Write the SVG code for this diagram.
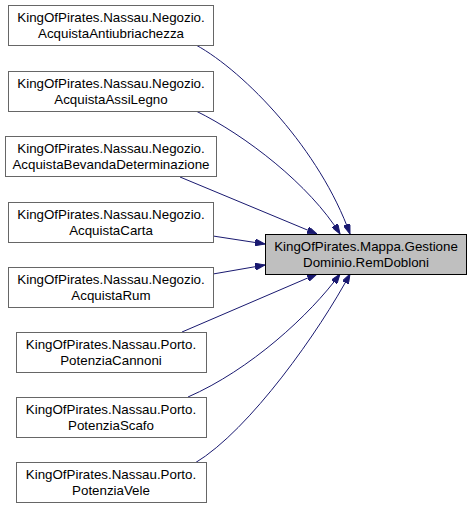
<svg xmlns="http://www.w3.org/2000/svg" width="472" height="509" viewBox="0 0 472 509">
<style>
.n rect{fill:#ffffff;stroke:#666666;stroke-width:1}
.t rect{fill:#bfbfbf;stroke:#000000;stroke-width:1}
text{font-family:"Liberation Sans",Arial,sans-serif;font-size:13.33px;fill:#000000;text-anchor:middle}
.e path{fill:none;stroke:#191970;stroke-width:1}
</style>
<defs>
<marker id="ah" viewBox="0 0 10 7" refX="10" refY="3.5" markerWidth="10" markerHeight="7" markerUnits="userSpaceOnUse" orient="auto">
<path d="M0,0 L10,3.5 L0,7 z" fill="#191970" stroke="#191970"/>
</marker>
</defs>
<rect width="472" height="509" fill="#ffffff"/>
<g id="edges" class="e">
<path d="M196,45 C245,72 320,150 350,234" marker-end="url(#ah)"/>
<path d="M196,111 C245,135 310,185 340,234" marker-end="url(#ah)"/>
<path d="M180,177 L317,234" marker-end="url(#ah)"/>
<path d="M213,236 L265,244" marker-end="url(#ah)"/>
<path d="M213,274 L265,265" marker-end="url(#ah)"/>
<path d="M182,332 L317,274" marker-end="url(#ah)"/>
<path d="M188,397 C250,370 310,315 340,274" marker-end="url(#ah)"/>
<path d="M195,463 C250,430 320,330 350,274" marker-end="url(#ah)"/>
</g>
<g id="target" class="t">
<rect x="265.5" y="234.5" width="201" height="40"/>
<text x="366" y="251">KingOfPirates.Mappa.Gestione</text>
<text x="366" y="267">Dominio.RemDobloni</text>
</g>
<g id="n1" class="n">
<rect x="8.5" y="5.5" width="205" height="40"/>
<text x="111" y="22">KingOfPirates.Nassau.Negozio.</text>
<text x="111" y="38">AcquistaAntiubriachezza</text>
</g>
<g id="n2" class="n">
<rect x="8.5" y="71.5" width="205" height="40"/>
<text x="111" y="88">KingOfPirates.Nassau.Negozio.</text>
<text x="111" y="104">AcquistaAssiLegno</text>
</g>
<g id="n3" class="n">
<rect x="5.5" y="136.5" width="211" height="40"/>
<text x="111" y="153">KingOfPirates.Nassau.Negozio.</text>
<text x="111" y="169">AcquistaBevandaDeterminazione</text>
</g>
<g id="n4" class="n">
<rect x="8.5" y="202.5" width="205" height="40"/>
<text x="111" y="219">KingOfPirates.Nassau.Negozio.</text>
<text x="111" y="235">AcquistaCarta</text>
</g>
<g id="n5" class="n">
<rect x="8.5" y="267.5" width="205" height="40"/>
<text x="111" y="284">KingOfPirates.Nassau.Negozio.</text>
<text x="111" y="300">AcquistaRum</text>
</g>
<g id="n6" class="n">
<rect x="16.5" y="332.5" width="190" height="40"/>
<text x="111" y="349">KingOfPirates.Nassau.Porto.</text>
<text x="111" y="365">PotenziaCannoni</text>
</g>
<g id="n7" class="n">
<rect x="16.5" y="397.5" width="190" height="40"/>
<text x="111" y="414">KingOfPirates.Nassau.Porto.</text>
<text x="111" y="430">PotenziaScafo</text>
</g>
<g id="n8" class="n">
<rect x="16.5" y="462.5" width="190" height="40"/>
<text x="111" y="479">KingOfPirates.Nassau.Porto.</text>
<text x="111" y="495">PotenziaVele</text>
</g>
</svg>
